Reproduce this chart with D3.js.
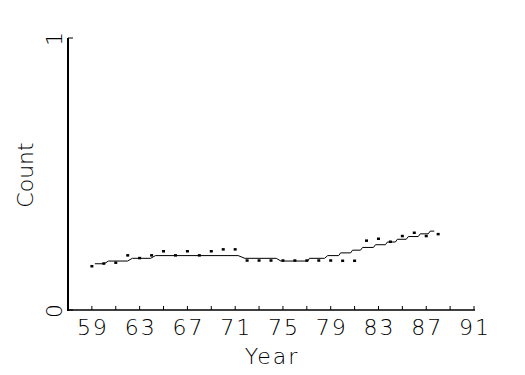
<!DOCTYPE html>
<html>
<head>
<meta charset="utf-8">
<script src="https://cdn.jsdelivr.net/npm/d3@7"></script>
<style>
  body { margin: 0; background: #fff; }
  text { font-family: "DejaVu Sans", sans-serif; font-weight: 200; fill: #000; }
</style>
</head>
<body>
<div id="chart"></div>
<script>
// data
const years  = [59, 60, 61, 62, 63, 64, 65, 66, 67, 68, 69, 70, 71, 72, 73,
                74, 75, 76, 77, 78, 79, 80, 81, 82, 83, 84, 85, 86, 87, 88];
const counts = [0.160, 0.170, 0.173, 0.200, 0.190, 0.200, 0.215, 0.200, 0.215, 0.200,
                0.215, 0.222, 0.222, 0.181, 0.181, 0.181, 0.181, 0.181, 0.181, 0.181,
                0.181, 0.180, 0.180, 0.254, 0.261, 0.250, 0.271, 0.283, 0.271, 0.278];

// fitted line (stepped look of the original plot)
const fitYears  = [59.25, 60.03, 60.39, 61.98, 62.39, 63.92, 64.33, 71.25, 71.81, 74.44,
                   74.83, 77.08, 77.22, 78.48, 78.75, 79.67, 79.83, 80.67, 80.83, 81.5,
                   81.67, 82.58, 82.75, 83.58, 83.75, 84.42, 84.58, 85.33, 85.5, 86.33,
                   86.5, 87.17, 87.33, 87.67];
const fitValues = [0.17, 0.17, 0.18, 0.18, 0.19, 0.19, 0.20, 0.20, 0.19, 0.19,
                   0.18, 0.18, 0.19, 0.19, 0.20, 0.20, 0.21, 0.21, 0.22, 0.22,
                   0.23, 0.23, 0.24, 0.24, 0.25, 0.25, 0.26, 0.26, 0.27, 0.27,
                   0.28, 0.28, 0.29, 0.29];

const xTicks  = [59, 61, 63, 65, 67, 69, 71, 73, 75, 77, 79, 81, 83, 85, 87, 89, 91];
const xLabels = [59, 63, 67, 71, 75, 79, 83, 87, 91];
const yLabels = [0, 1];

const svg = d3.select("#chart").append("svg")
    .attr("width", 525)
    .attr("height", 375);

const x = d3.scaleLinear().domain([57, 91]).range([68, 474]);
const y = d3.scaleLinear().domain([0, 1]).range([310, 38]);

// axes
svg.append("line")
    .attr("x1", x(57)).attr("x2", x(57)).attr("y1", y(1)).attr("y2", y(0) + 1)
    .attr("stroke", "#000").attr("stroke-width", 2);
svg.append("line")
    .attr("x1", x(57)).attr("x2", x(91) + 1).attr("y1", y(0)).attr("y2", y(0))
    .attr("stroke", "#000").attr("stroke-width", 1.5);

// x ticks point up into the plot
svg.selectAll(".xt").data(xTicks).enter().append("line")
    .attr("x1", d => x(d)).attr("x2", d => x(d))
    .attr("y1", y(0)).attr("y2", y(0) - 4)
    .attr("stroke", "#000").attr("stroke-width", 1);

svg.selectAll(".xl").data(xLabels).enter().append("text")
    .attr("x", d => x(d) + 1).attr("y", 335)
    .attr("text-anchor", "middle")
    .attr("font-size", 22)
    .attr("letter-spacing", 2)
    .text(d => d);

// y ticks point right
svg.selectAll(".yt").data(yLabels).enter().append("line")
    .attr("x1", x(57)).attr("x2", x(57) + 5)
    .attr("y1", d => y(d)).attr("y2", d => y(d))
    .attr("stroke", "#000").attr("stroke-width", 1);

svg.selectAll(".yl").data(yLabels).enter().append("text")
    .attr("transform", d => "translate(62," + (y(d) + 1) + ") rotate(-90)")
    .attr("text-anchor", "middle")
    .attr("font-size", 22)
    .text(d => d);

// axis titles
svg.append("text")
    .attr("x", (x(57) + x(91)) / 2 + 1).attr("y", 364)
    .attr("text-anchor", "middle")
    .attr("font-size", 22)
    .attr("letter-spacing", 2)
    .text("Year");

svg.append("text")
    .attr("transform", "translate(33,175) rotate(-90)")
    .attr("text-anchor", "middle")
    .attr("font-size", 22)
    .text("Count");

// fitted line
const fit = fitYears.map((d, i) => [d, fitValues[i]]);
svg.append("path")
    .datum(fit)
    .attr("fill", "none")
    .attr("stroke", "#000")
    .attr("stroke-width", 1)
    .attr("d", d3.line().x(d => x(d[0])).y(d => y(d[1])));

// observed points
svg.selectAll(".pt").data(years).enter().append("rect")
    .attr("x", (d, i) => x(d) - 1.5)
    .attr("y", (d, i) => y(counts[i]) - 1.5)
    .attr("width", 3)
    .attr("height", 2.5)
    .attr("fill", "#000");
</script>
</body>
</html>
